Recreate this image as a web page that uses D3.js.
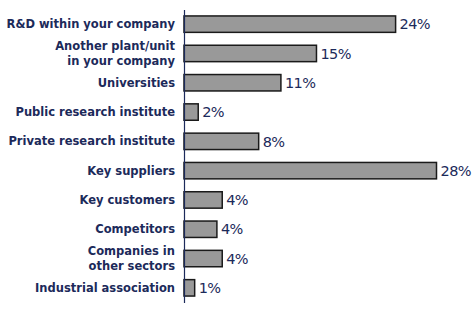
<!DOCTYPE html>
<html>
<head>
<meta charset="utf-8">
<script src="https://cdn.jsdelivr.net/npm/d3@7"></script>
<style>
  body { margin: 0; background: #fff; }
</style>
</head>
<body>
<div id="chart"></div>
<script>
// sources of innovation, share of firms (%)
const categories = [
    ["R&D within your company"],
    ["Another plant/unit", "in your company"],
    ["Universities"],
    ["Public research institute"],
    ["Private research institute"],
    ["Key suppliers"],
    ["Key customers"],
    ["Competitors"],
    ["Companies in", "other sectors"],
    ["Industrial association"]
];
const values = [23.8, 14.9, 10.9, 1.6, 8.4, 28.4, 4.3, 3.7, 4.3, 1.2];

const width = 476, height = 310;
const margin = { top: 9.5, right: 30, bottom: 7.5, left: 184 };
const navy = "#1c2a5a";

const svg = d3.select("#chart")
    .append("svg")
    .attr("width", width)
    .attr("height", height);

const x = d3.scaleLinear()
    .domain([0, 28.4])
    .range([margin.left, 436.5]);

const y = d3.scaleBand()
    .domain(d3.range(categories.length))
    .range([margin.top, height - margin.bottom])
    .paddingInner(0.44)
    .paddingOuter(0.22);

// bars
svg.append("g")
    .selectAll("rect")
    .data(values)
    .join("rect")
    .attr("x", x(0))
    .attr("y", (d, i) => y(i))
    .attr("width", d => x(d) - x(0))
    .attr("height", y.bandwidth())
    .attr("fill", "#999999")
    .attr("stroke", "#1a1a1a")
    .attr("stroke-width", 1.5);

// value labels
svg.append("g")
    .selectAll("text")
    .data(values)
    .join("text")
    .attr("x", d => x(d) + 4)
    .attr("y", (d, i) => y(i) + y.bandwidth() / 2)
    .attr("dy", "0.36em")
    .attr("fill", navy)
    .style("font-family", "'DejaVu Sans', sans-serif")
    .style("font-size", "14.5px")
    .style("letter-spacing", "-0.6px")
    .text(d => d3.format(".0f")(d) + "%");

// category axis
const axis = svg.append("g")
    .attr("transform", `translate(${x(0)},0)`)
    .call(d3.axisLeft(y).tickSize(0).tickPadding(9).tickFormat(""));
axis.select(".domain").attr("stroke", navy).attr("stroke-width", 1.2);

axis.selectAll(".tick text")
    .attr("fill", navy)
    .style("font-family", "'DejaVu Sans', sans-serif")
    .style("font-size", "11.5px")
    .style("font-weight", "bold")
    .each(function (i) {
        const lines = categories[i];
        const t = d3.select(this).attr("dy", null);
        lines.forEach((ln, k) => {
            t.append("tspan")
                .attr("x", -9)
                .attr("y", 0)
                .attr("dy", (0.36 + (k - (lines.length - 1) / 2) * 1.3) + "em")
                .text(ln);
        });
    });
</script>
</body>
</html>
